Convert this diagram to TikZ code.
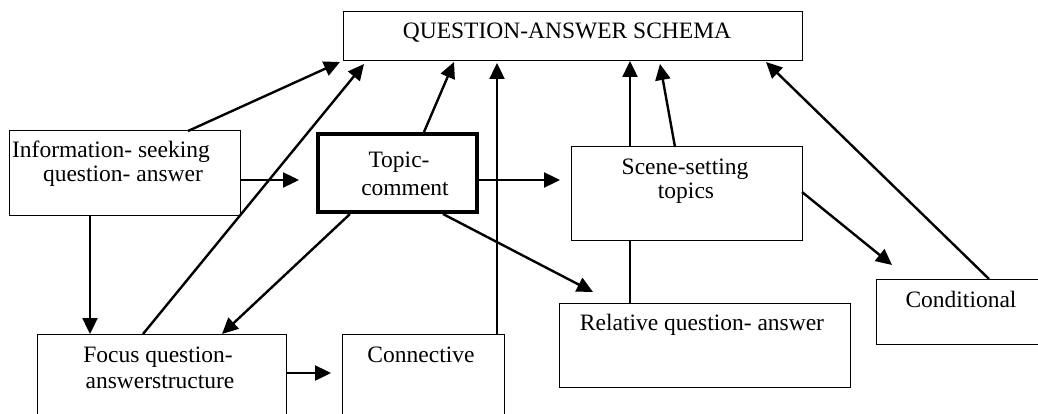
\documentclass[tikz,border=0pt]{standalone}
\usepackage{fontspec}
\setmainfont{Liberation Serif}
\usetikzlibrary{arrows.meta}
\begin{document}
\begin{tikzpicture}[x=1pt,y=-1pt,
  box/.style={draw=black,line width=1pt,fill=none,inner sep=0pt,outer sep=0pt},
  thickbox/.style={draw=black,line width=4pt,inner sep=0pt,outer sep=0pt},
  txt/.style={inner sep=0pt,anchor=base,font=\fontsize{23.5}{26}\selectfont},
  arr/.style={line width=2.4pt,-{Triangle[length=16pt,width=15pt]}},
  ln/.style={line width=2.4pt}]
\clip (0,0) rectangle (1038,414);
\fill[white] (0,0) rectangle (1038,414);
% boxes
\node[box,minimum width=459pt,minimum height=49pt] (qas) at (572.5,36.5) {};
\node[box,minimum width=231pt,minimum height=84pt] (info) at (124.5,173) {};
\node[thickbox,minimum width=159pt,minimum height=78pt] (topic) at (397.5,173) {};
\node[box,minimum width=231pt,minimum height=93pt] (scene) at (686.5,193.5) {};
\node[box,minimum width=291pt,minimum height=84pt] (rel) at (704.5,345) {};
\node[box,minimum width=175pt,minimum height=65pt] (cond) at (963.5,311.5) {};
\node[box,minimum width=249pt,minimum height=90pt] (focus) at (161.5,379) {};
\node[box,minimum width=162pt,minimum height=90pt] (conn) at (423,379) {};
% texts
\node[txt] (qast) at (567,39) {QUESTION-ANSWER SCHEMA};
\node[txt] (info1) at (111,158) {Information- seeking};
\node[txt] (info2) at (123,182) {question- answer};
\node[txt] (topic1) at (399,168) {Topic-};
\node[txt] (topic2) at (405,196) {comment};
\node[txt] (scene1) at (685,175) {Scene-setting};
\node[txt] (scene2) at (686,198) {topics};
\node[txt] (relt) at (702,330) {Relative question- answer};
\node[txt] (condt) at (961,307) {Conditional};
\node[txt] (focus1) at (158,362) {Focus question-};
\node[txt] (focus2) at (160,388) {answerstructure};
\node[txt] (connt) at (421,362) {Connective};
% connector end points
\coordinate (i1) at (188,131);
\coordinate (q1) at (340,62);
\coordinate (f1) at (143,334);
\coordinate (q2) at (364,64);
\coordinate (t1) at (424,132);
\coordinate (q3) at (454,62);
\coordinate (c1) at (497,334);
\coordinate (q4) at (497,63);
\coordinate (s1) at (630,147);
\coordinate (q5) at (630,61);
\coordinate (s2) at (675,147);
\coordinate (q6) at (660,64);
\coordinate (k1) at (989,279);
\coordinate (q7) at (766,62);
\coordinate (i2) at (240,180);
\coordinate (t2) at (299,180);
\coordinate (t3) at (479,180);
\coordinate (s3) at (560,180);
\coordinate (i3) at (90,215);
\coordinate (f2) at (90,334);
\coordinate (t4) at (350,214);
\coordinate (f3) at (222,334);
\coordinate (t5) at (443,214);
\coordinate (r1) at (593,292);
\coordinate (s4) at (630,240);
\coordinate (r2) at (630,303);
\coordinate (s5) at (802,192);
\coordinate (k2) at (892,265);
\coordinate (f4) at (286,373);
\coordinate (c2) at (331,373);
% connectors
\draw[arr] (i1) -- (q1);
\draw[arr] (f1) -- (q2);
\draw[arr] (t1) -- (q3);
\draw[arr] (c1) -- (q4);
\draw[arr] (s1) -- (q5);
\draw[arr] (s2) -- (q6);
\draw[arr] (k1) -- (q7);
\draw[arr] (i2) -- (t2);
\draw[arr] (t3) -- (s3);
\draw[arr] (i3) -- (f2);
\draw[arr] (t4) -- (f3);
\draw[arr] (t5) -- (r1);
\draw[ln] (s4) -- (r2);
\draw[arr] (s5) -- (k2);
\draw[arr] (f4) -- (c2);
\end{tikzpicture}
\end{document}
